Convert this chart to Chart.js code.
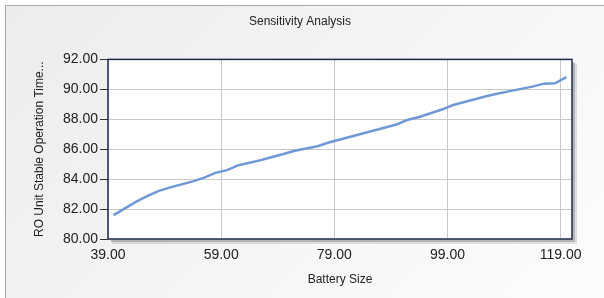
<!DOCTYPE html>
<html>
<head>
<meta charset="utf-8">
<script src="https://cdn.jsdelivr.net/npm/chart.js@4/dist/chart.umd.min.js"></script>
<style>
  html, body { margin: 0; padding: 0; background: #fff; }
  #frame {
    position: absolute; left: 5px; top: 5px; width: 640px; height: 320px;
    border: 1px solid #a9a9a9;
    background: linear-gradient(135deg, #ececec 0%, #f6f6f6 55%, #fdfdfd 100%);
  }
  #wrap { position: absolute; left: 0; top: 0; width: 604px; height: 298px; }
</style>
</head>
<body>
<div id="frame"></div>
<div id="wrap"><canvas id="chart" width="604" height="298"></canvas></div>
<script>
const chartElement = document.getElementById('chart') ;

// battery size vs RO unit stable operation time
const batterySize = [40, 42, 44, 46, 48, 50, 52, 54, 56, 58,
                     60, 62, 64, 66, 68, 70, 72, 74, 76, 78,
                     80, 82, 84, 86, 88, 90, 92, 94, 96, 98,
                     100, 102, 104, 106, 108, 110, 112, 114, 116, 118, 120] ;
const operationTime = [81.60, 82.05, 82.50, 82.88, 83.22, 83.45, 83.65, 83.85, 84.10, 84.42,
                       84.60, 84.92, 85.10, 85.27, 85.48, 85.68, 85.90, 86.05, 86.20, 86.45,
                       86.65, 86.85, 87.05, 87.25, 87.45, 87.65, 87.97, 88.15, 88.40, 88.65,
                       88.95, 89.15, 89.35, 89.55, 89.72, 89.88, 90.03, 90.18, 90.38, 90.40, 90.82] ;
const xTicks = [39, 59, 79, 99, 119] ;
const xMin = 39, xMax = 121 ;
const yMin = 80, yMax = 92, yStep = 2 ;

const chartTitle = 'Sensitivity Analysis' ;
const xTitle = 'Battery Size' ;
const yTitle = 'RO Unit Stable Operation Time...' ;

const points = batterySize.map((b, i) => ({ x: b, y: operationTime[i] })) ;

const fontFamily = '"Liberation Sans", Arial, sans-serif' ;

// white plot area with a small drop shadow, dark frame on top
const plotFrame = {
    id: 'plotFrame',
    beforeDraw(chart) {
        const { ctx, chartArea: { left, top, width, height } } = chart ;
        ctx.save() ;
        ctx.fillStyle = 'rgba(120, 120, 120, 0.45)' ;
        ctx.fillRect(left + 3, top + 3, width, height) ;
        ctx.fillStyle = 'rgba(160, 160, 160, 0.3)' ;
        ctx.fillRect(left + 4, top + 4, width + 1, height + 1) ;
        ctx.fillStyle = '#ffffff' ;
        ctx.fillRect(left, top, width, height) ;
        ctx.restore() ;
    },
    afterDraw(chart) {
        const { ctx, chartArea: { left, top, width, height } } = chart ;
        ctx.save() ;
        ctx.strokeStyle = '#1c2a4a' ;
        ctx.lineWidth = 1.5 ;
        ctx.strokeRect(left, top, width, height) ;
        ctx.restore() ;
    }
}

const chart = new Chart(chartElement, {
    type: 'line',
    data: {
        datasets: [{
            data: points,
            borderColor: 'rgb(112, 152, 214)',
            borderWidth: 2.5,
            pointRadius: 0,
            fill: false,
            tension: 0
        }]
    },
    options: {
        responsive: false,
        animation: false,
        layout: {
            padding: { left: 28, right: 32, top: 4, bottom: 7 }
        },
        scales: {
            x: {
                type: 'linear',
                min: xMin,
                max: xMax,
                afterBuildTicks(scale) {
                    scale.ticks = xTicks.map(v => ({ value: v })) ;
                },
                afterFit(scale) {
                    scale.height = 52 ;
                },
                grid: {
                    color: '#c9c9c9',
                    drawTicks: false
                },
                border: { display: false },
                ticks: {
                    padding: 8,
                    color: '#222',
                    font: { family: fontFamily, size: 14 },
                    maxRotation: 0,
                    callback: v => Number(v).toFixed(2)
                },
                title: {
                    display: true,
                    text: xTitle,
                    color: '#222',
                    font: { family: fontFamily, size: 12 },
                    padding: { top: 4, bottom: 4 }
                }
            },
            y: {
                min: yMin,
                max: yMax,
                afterFit(scale) {
                    scale.width = 80 ;
                },
                grid: {
                    color: '#c9c9c9',
                    tickColor: '#333',
                    tickLength: 8
                },
                border: { display: false },
                ticks: {
                    stepSize: yStep,
                    padding: 2,
                    color: '#222',
                    font: { family: fontFamily, size: 14 },
                    callback: v => Number(v).toFixed(2)
                },
                title: {
                    display: true,
                    text: yTitle,
                    color: '#222',
                    font: { family: fontFamily, size: 12 },
                    padding: { top: 4, bottom: 4 }
                }
            }
        },
        plugins: {
            legend: { display: false },
            tooltip: { enabled: false },
            title: {
                display: true,
                text: chartTitle,
                color: '#222',
                font: { family: fontFamily, size: 12, weight: 'normal' },
                padding: { top: 10, bottom: 31 }
            }
        }
    },
    plugins: [plotFrame]
});
</script>
</body>
</html>
